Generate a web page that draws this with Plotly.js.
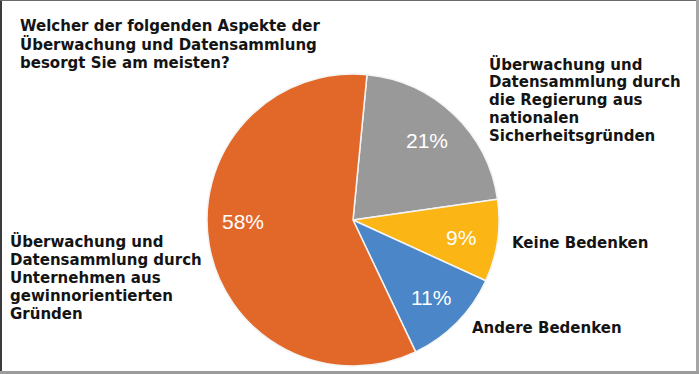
<!DOCTYPE html>
<html>
<head>
<meta charset="utf-8">
<script src="https://cdn.plot.ly/plotly-3.0.1.min.js"></script>
<style>
html,body{margin:0;padding:0;background:#fff;}
#chart{width:699px;height:374px;}
</style>
</head>
<body>
<div id="chart"></div>
<script>
// ---- data ----
const title = ['Welcher der folgenden Aspekte der', 'Überwachung und Datensammlung', 'besorgt Sie am meisten?'];
const categories = [
  ['Überwachung und', 'Datensammlung durch', 'die Regierung aus', 'nationalen', 'Sicherheitsgründen'],
  ['Keine Bedenken'],
  ['Andere Bedenken'],
  ['Überwachung und', 'Datensammlung durch', 'Unternehmen aus', 'gewinnorientierten', 'Gründen']
];
const values = [21, 9, 11, 58];
const colors = ['#999999', '#FBB514', '#4A86C8', '#E2682A'];

// ---- layout (positions / styles only) ----
const W = 699, H = 374;
const CX = 353, CY = 220, R = 146, ROT = 5.5;
const pctRadius = 0.75;
const pctNudge = [[-2, 0], [0, 2], [0, 1], [-2, -17]];
const labelFont = {family: 'DejaVu Sans', size: 15, color: '#141414'};
const annotations = [];
function addLines(lines, xPx, firstBaseline, spacing) {
  lines.forEach((t, i) => {
    const base = firstBaseline + i * spacing;
    annotations.push({
      xref: 'paper', yref: 'paper',
      x: xPx / W, y: 1 - (base - 5.5) / H,
      xanchor: 'left', yanchor: 'middle',
      text: '<b>' + t + '</b>', showarrow: false, align: 'left',
      font: labelFont
    });
  });
}
addLines(title, 18, 31.5, 18.5);
addLines(categories[0], 487, 69.5, 18);
addLines(categories[1], 510, 248.3, 18);
addLines(categories[2], 470, 333.3, 18);
addLines(categories[3], 8, 246.7, 18.3);

// percentage labels placed at each slice's mid angle (derived from the values)
const total = values.reduce((a, b) => a + b, 0);
let cum = 0;
values.forEach((v, i) => {
  const mid = (ROT + (cum + v / 2) / total * 360) * Math.PI / 180;
  cum += v;
  const px = CX + pctRadius * R * Math.sin(mid) + pctNudge[i][0];
  const py = CY - pctRadius * R * Math.cos(mid) + pctNudge[i][1];
  annotations.push({
    xref: 'paper', yref: 'paper', x: px / W, y: 1 - py / H,
    xanchor: 'center', yanchor: 'middle', showarrow: false,
    text: v + '%',
    font: {family: 'Liberation Sans', size: 21, color: '#ffffff'}
  });
});

const shapes = [
  {type: 'rect', xref: 'paper', yref: 'paper', x0: 0, x1: 2 / W, y0: 0, y1: 1, fillcolor: '#3c3c3c', line: {width: 0}},
  {type: 'rect', xref: 'paper', yref: 'paper', x0: 0, x1: 1, y0: 1 - 1 / H, y1: 1, fillcolor: '#6a6a6a', line: {width: 0}},
  {type: 'rect', xref: 'paper', yref: 'paper', x0: 696 / W, x1: 1, y0: 0, y1: 1, fillcolor: '#a6a6a6', line: {width: 0}},
  {type: 'rect', xref: 'paper', yref: 'paper', x0: 0, x1: 1, y0: 0, y1: 3 / H, fillcolor: '#9c9c9c', line: {width: 0}}
];

const trace = {
  type: 'pie',
  values: values,
  labels: categories.map(c => c.join(' ')),
  sort: false,
  direction: 'clockwise',
  rotation: ROT,
  marker: {colors: colors, line: {color: '#f4f4f4', width: 1.5}},
  textinfo: 'none',
  hoverinfo: 'none',
  domain: {x: [(CX - R) / W, (CX + R) / W], y: [(H - CY - R) / H, (H - CY + R) / H]}
};

const layout = {
  width: W, height: H,
  margin: {l: 0, r: 0, t: 0, b: 0},
  paper_bgcolor: '#ffffff',
  showlegend: false,
  annotations: annotations,
  shapes: shapes
};

Plotly.newPlot('chart', [trace], layout, {displayModeBar: false, staticPlot: true});
</script>
</body>
</html>
